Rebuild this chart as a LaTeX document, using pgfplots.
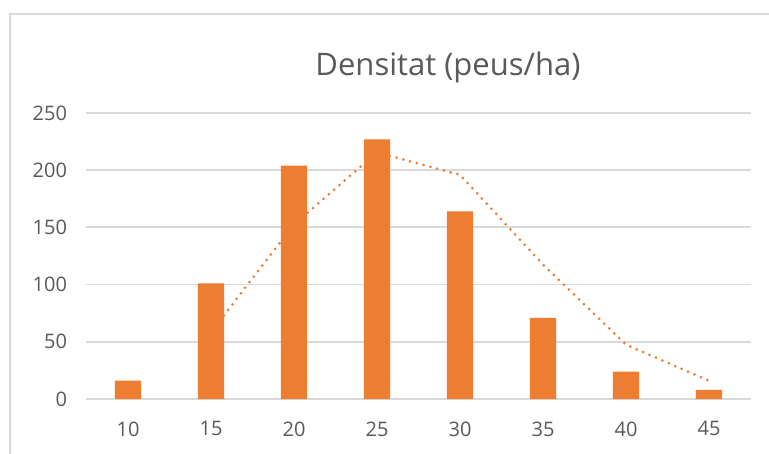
\documentclass[border=0pt]{standalone}
\usepackage{fontspec}
\setmainfont{Open Sans}
\usepackage{pgfplots}
\pgfplotsset{compat=1.18}
\definecolor{barorange}{HTML}{ED7D31}
\definecolor{gridgray}{HTML}{D9D9D9}
\definecolor{textgray}{HTML}{595959}
\definecolor{framegray}{HTML}{D9D9D9}
\begin{document}
\begin{tikzpicture}[x=1pt,y=1pt]
\useasboundingbox (0,0) rectangle (769,453);
\fill[white] (0,0) rectangle (769,453);
\draw[framegray, line width=1.5pt] (10,-10) -- (10,439) -- (780,439);
\node[textgray, font=\fontsize{31}{37}\selectfont] at (448,386) {Densitat (peus/ha)};
\begin{axis}[
  at={(86.5pt,54pt)}, anchor=south west,
  scale only axis, width=664pt, height=286pt,
  xmin=7.5, xmax=47.5, ymin=0, ymax=250,
  xtick={10,15,...,45}, ytick={0,50,...,250},
  axis line style={draw=none}, tick style={draw=none},
  ymajorgrids, grid style={gridgray, line width=1.8pt},
  ticklabel style={textgray, font=\fontsize{20}{24}\selectfont},
  /pgf/number format/assume math mode=true,
  yticklabel style={xshift=-16pt},
  xticklabel style={yshift=-19pt},
  clip=false,
]
% two-period moving average, drawn behind the bars
\addplot[barorange, line width=3pt, dash pattern=on 0pt off 7pt, line cap=round]
  coordinates {(15,58.5) (20,152.5) (25,215.5) (30,196) (35,117.5) (40,47.5) (45,16)};
\addplot[ybar, bar width=1.57, fill=barorange, draw=none]
  coordinates {(10,16) (15,101) (20,204) (25,227) (30,164) (35,71) (40,24) (45,8)};
\end{axis}
\end{tikzpicture}
\end{document}
